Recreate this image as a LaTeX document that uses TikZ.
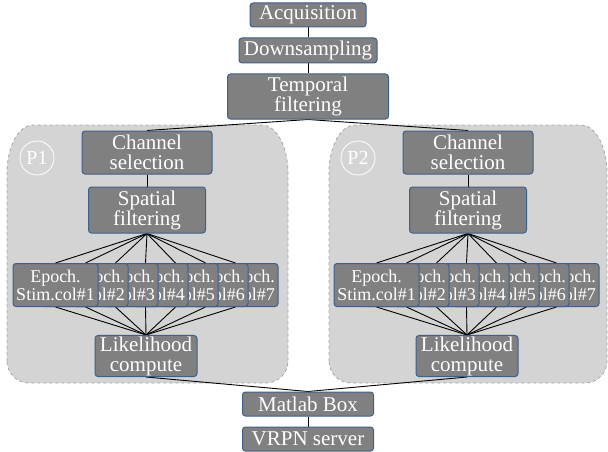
\documentclass[tikz,border=0pt]{standalone}
\usepackage{fontspec}
\setmainfont{Liberation Serif}
\usepackage{xcolor}
\usetikzlibrary{positioning}
\definecolor{boxgray}{RGB}{128,128,128}
\definecolor{boxblue}{RGB}{62,96,140}
\definecolor{panelgray}{RGB}{212,212,212}
\definecolor{paneledge}{RGB}{165,165,165}
\pgfdeclarelayer{panels}
\pgfdeclarelayer{links}
\pgfsetlayers{panels,links,main}
\tikzset{
  procbox/.style={draw=boxblue, line width=1pt, rounded corners=3pt, fill=boxgray, text=white, align=center, inner xsep=2pt, inner ysep=1pt, font=\fontsize{21}{20}\selectfont},
  epochbox/.style={procbox, minimum width=85pt, minimum height=43pt, font=\fontsize{18}{18}\selectfont},
  panelbox/.style={draw=paneledge, dashed, line width=0.8pt, fill=panelgray},
  panellabel/.style={circle, draw=white, line width=0.8pt, text=white, minimum size=34pt, inner sep=0pt, font=\fontsize{20}{20}\selectfont},
  link/.style={draw=black, line width=0.9pt}
}

\begin{document}
\begin{tikzpicture}[x=1pt,y=-1pt,node distance=10pt]
\useasboundingbox (0,0) rectangle (608,452);
\node[procbox,minimum width=116pt,minimum height=24pt] (acq) at (308,15) {Acquisition};
\node[procbox,minimum width=138pt,minimum height=25pt,below=of acq] (down) {Downsampling};
\node[procbox,minimum width=161pt,minimum height=45pt,below=of down] (temp) {Temporal\\filtering};
\node[procbox,minimum width=131pt,minimum height=24pt] (mat) at (308,404) {Matlab Box};
\node[procbox,minimum width=131pt,minimum height=24pt,below=of mat] (vrpn) {VRPN server};
\foreach \p/\dx/\xa/\xb in {1/0/7/288,2/321/329/607}{
  % panel: tall rounded top corners, smaller bottom ones
  \begin{pgfonlayer}{panels}
  \draw[panelbox] (\xa,361) -- (\xa,173)
    arc[start angle=180,end angle=90,x radius=26pt,y radius=48pt] -- (\xb-26,125)
    arc[start angle=90,end angle=0,x radius=26pt,y radius=48pt] -- (\xb,361)
    arc[start angle=0,end angle=-90,radius=22pt] -- (\xa+22,383)
    arc[start angle=270,end angle=180,radius=22pt] -- cycle;
  \end{pgfonlayer}
  \node[panellabel] (lab\p) at (37+\dx,158) {P\p};
  \node[procbox,minimum width=130pt,minimum height=43pt] (ch\p) at (147+\dx,152.5) {Channel\\selection};
  \node[procbox,minimum width=117pt,minimum height=46pt] (sp\p) at (147+\dx,210) {Spatial\\filtering};
  \foreach \k/\al in {7/right,6/right,5/right,4/right,3/right,2/right,1/center}{
    \node[epochbox,align=\al] (ep\p-\k) at (55.5+30*\k-30+\dx,285) {Epoch.\\Stim.col\#\k};
  }
  \node[procbox,minimum width=102pt,minimum height=38pt] (lik\p) at (146+\dx,356) {Likelihood\\compute};
  \begin{pgfonlayer}{links}
  \draw[link] (temp.south) -- (ch\p.north);
  \draw[link] (ch\p) -- (sp\p);
  \foreach \k in {1,...,7}{
    \draw[link] (sp\p.south) -- (ep\p-\k.north);
    \draw[link] (ep\p-\k.south) -- (lik\p.north);
  }
  \draw[link] (lik\p.south) -- (mat.north);
  \end{pgfonlayer}
}
\begin{pgfonlayer}{links}
\draw[link] (acq) -- (down);
\draw[link] (down) -- (temp);
\draw[link] (mat) -- (vrpn);
\end{pgfonlayer}
\end{tikzpicture}
\end{document}
